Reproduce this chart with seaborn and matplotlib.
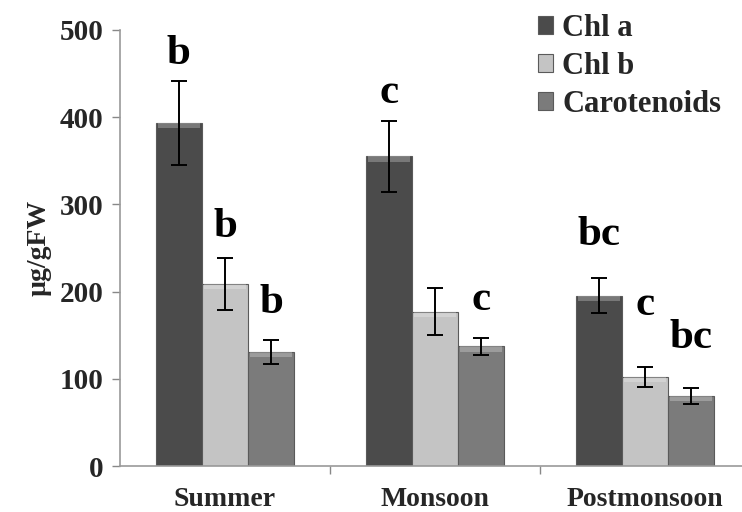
import matplotlib
matplotlib.use("Agg")
import matplotlib.pyplot as plt
import seaborn as sns
import pandas as pd
import numpy as np

seasons = ["Summer", "Monsoon", "Postmonsoon"]
pigments = ["Chl a", "Chl b", "Carotenoids"]
chl_a = [393, 355, 195]
chl_b = [209, 177, 102]
carot = [131, 137, 80]
err_a = [48, 41, 20]
err_b = [30, 27, 11]
err_c = [14, 10, 9]
letters_a = ["b", "c", "bc"]
letters_b = ["b", "", "c"]
letters_c = ["b", "c", "bc"]
letter_y_a = [461, 416, 253]
letter_y_b = [263, 0, 173]
letter_y_c = [175, 179, 135]
colors = ["#4b4b4b", "#c4c4c4", "#7b7b7b"]

sns.set_theme(style="white")
plt.rcParams["font.family"] = ["Liberation Serif", "DejaVu Serif"]
plt.rcParams["font.weight"] = "bold"

rows = []
for i, s in enumerate(seasons):
    for p, vals in zip(pigments, [chl_a, chl_b, carot]):
        rows.append({"season": s, "pigment": p, "value": vals[i]})
df = pd.DataFrame(rows)

fig = plt.figure(figsize=(7.42, 5.12), dpi=100)
ax = fig.add_axes([0.1617, 0.0898, 0.849, 0.852])
sns.barplot(data=df, x="season", y="value", hue="pigment", order=seasons,
            hue_order=pigments, palette=colors, width=0.66, errorbar=None,
            edgecolor="#5a5a5a", linewidth=0.8, ax=ax, saturation=1)

errs = [err_a, err_b, err_c]
vals_all = [chl_a, chl_b, carot]
labs = [letters_a, letters_b, letters_c]
ly = [letter_y_a, letter_y_b, letter_y_c]
bar_conts = list(ax.containers)
for h, cont in enumerate(bar_conts):
    for i, bar in enumerate(cont.patches):
        xc = bar.get_x() + bar.get_width() / 2
        ax.errorbar(xc, vals_all[h][i], yerr=errs[h][i], fmt="none",
                    ecolor="black", elinewidth=1.4, capsize=6, capthick=1.4)
        ax.add_patch(plt.Rectangle((bar.get_x() + 0.01, bar.get_height() - 6),
                                   bar.get_width() - 0.02, 6,
                                   color="white", alpha=0.25, lw=0))
        if labs[h][i]:
            ax.text(xc, ly[h][i], labs[h][i], ha="center", va="baseline",
                    fontsize=31, fontweight="bold", color="black")

ax.set_ylim(0, 500)
ax.set_xlim(-0.5, 2.5)
ax.set_yticks([0, 100, 200, 300, 400, 500])
ax.tick_params(axis="y", labelsize=21, length=6, width=1, color="#888888",
               direction="out", left=True, pad=6)
ax.tick_params(axis="x", labelsize=20, length=0, pad=15)
ax.set_xticks([0.5, 1.5], minor=True)
ax.tick_params(axis="x", which="minor", length=6, width=1, color="#888888",
               direction="out", bottom=True)
for lab in ax.get_xticklabels() + ax.get_yticklabels():
    lab.set_fontweight("bold")
ax.set_xlabel("")
ax.set_ylabel("µg/gFW", fontsize=20, fontweight="bold", labelpad=6)
for sp in ["top", "right"]:
    ax.spines[sp].set_visible(False)
for sp in ["left", "bottom"]:
    ax.spines[sp].set_color("#999999")
    ax.spines[sp].set_linewidth(1.2)

leg = ax.legend(loc="upper left", bbox_to_anchor=(0.62, 1.1), frameon=False,
                prop={"size": 22, "weight": "bold"}, handlelength=0.5,
                handleheight=0.5, handletextpad=0.3, labelspacing=0.3)

fig.savefig("out.png", dpi=100)
